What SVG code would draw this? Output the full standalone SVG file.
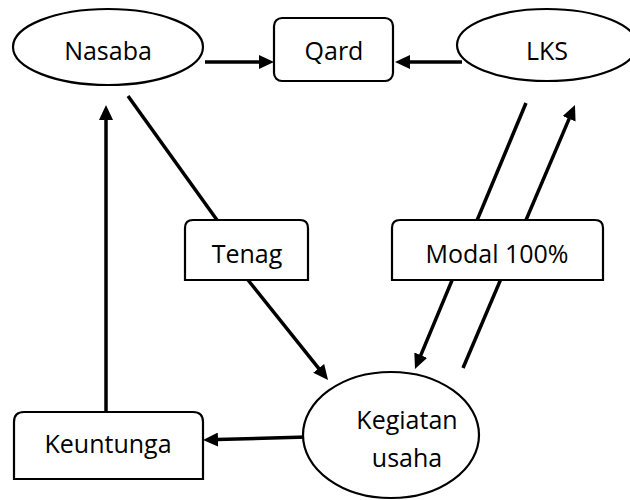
<svg xmlns="http://www.w3.org/2000/svg" width="630" height="500" viewBox="0 0 630 500">
<style>
.shape{fill:#fff;stroke:#000;stroke-width:2.2}
.conn{fill:none;stroke:#000;stroke-width:3.5}
text{font-family:"Open Sans","Liberation Sans",sans-serif;font-size:25px;fill:#000;text-anchor:middle}
</style>
<defs>
<marker id="ah" viewBox="0 0 15 14" refX="1" refY="7" markerWidth="15" markerHeight="14" markerUnits="userSpaceOnUse" orient="auto">
<path d="M0,0 L15,7 L0,14 z" fill="#000"/>
</marker>
</defs>
<rect width="630" height="500" fill="#fff"/>
<g id="connectors">
<line class="conn" x1="205" y1="62" x2="260" y2="62" marker-end="url(#ah)"/>
<line class="conn" x1="462" y1="62" x2="409" y2="62" marker-end="url(#ah)"/>
<line class="conn" x1="106" y1="412" x2="106" y2="119" marker-end="url(#ah)"/>
<line class="conn" x1="128" y1="96" x2="217" y2="220"/>
<line class="conn" x1="248" y1="280" x2="319.3" y2="369.1" marker-end="url(#ah)"/>
<line class="conn" x1="526" y1="103" x2="420.4" y2="356.1" marker-end="url(#ah)"/>
<line class="conn" x1="463" y1="368" x2="569.5" y2="117.9" marker-end="url(#ah)"/>
<line class="conn" x1="307" y1="437" x2="217" y2="439.6" marker-end="url(#ah)"/>
</g>
<g id="nasaba">
<ellipse class="shape" cx="108" cy="47" rx="95" ry="38"/>
<text x="108" y="60">Nasaba</text>
</g>
<g id="qard">
<rect class="shape" x="274" y="18" width="119" height="63" rx="8"/>
<text x="334" y="60">Qard</text>
</g>
<g id="lks">
<ellipse class="shape" cx="547" cy="45" rx="90" ry="36"/>
<text x="547" y="60">LKS</text>
</g>
<g id="tenag">
<path class="shape" d="M185,280 V228 Q185,220 193,220 H300 Q308,220 308,228 V280 Z"/>
<text x="247" y="263">Tenag</text>
</g>
<g id="modal">
<path class="shape" d="M392,280 V228 Q392,220 400,220 H595 Q603,220 603,228 V280 Z"/>
<text x="497" y="263">Modal 100%</text>
</g>
<g id="kegiatan">
<ellipse class="shape" cx="391" cy="435" rx="88" ry="63"/>
<text x="407" y="429">Kegiatan</text>
<text x="407" y="467">usaha</text>
</g>
<g id="keuntunga">
<path class="shape" d="M14,479 V422 Q14,412 24,412 H193 Q203,412 203,422 V479 Z"/>
<text x="108" y="453">Keuntunga</text>
</g>
</svg>
